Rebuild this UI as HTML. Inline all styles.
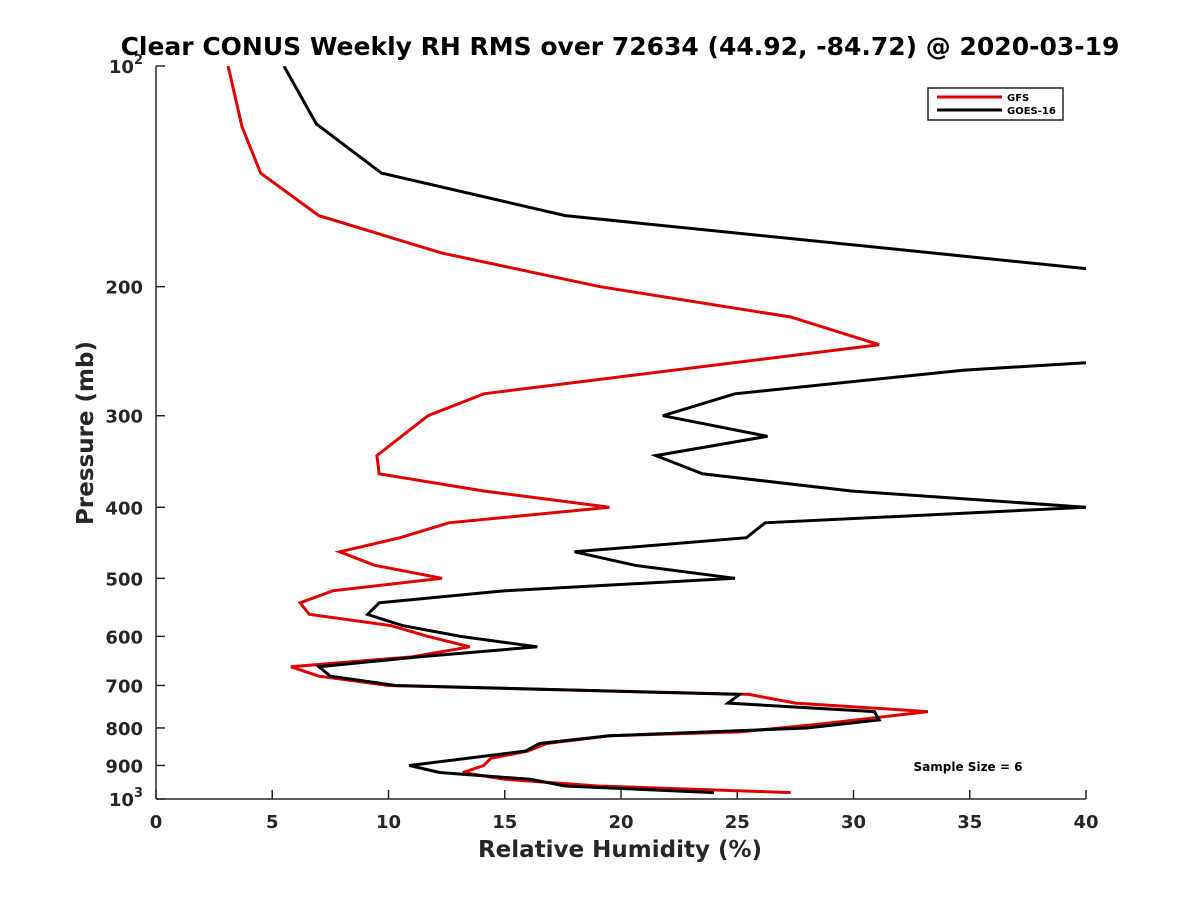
<!DOCTYPE html>
<html><head><meta charset="utf-8"><style>
body{margin:0;background:#fff}
svg{font-family:"DejaVu Sans","Liberation Sans",sans-serif;font-weight:bold}
</style></head><body>
<svg id="c" width="1200" height="900" xmlns="http://www.w3.org/2000/svg">
<rect width="1200" height="900" fill="#fff"/>
<defs><clipPath id="clip"><rect x="156" y="66" width="930" height="733"/></clipPath></defs>
<text x="620" y="55" text-anchor="middle" font-size="25" fill="#000">Clear CONUS Weekly RH RMS over 72634 (44.92, -84.72) @ 2020-03-19</text>
<g id="axes"></g>
<g id="series" clip-path="url(#clip)"></g>
<text x="620" y="857" text-anchor="middle" font-size="23" fill="#262626">Relative Humidity (%)</text>
<text transform="translate(93,433) rotate(-90)" text-anchor="middle" font-size="23" fill="#262626">Pressure (mb)</text>
<g>
<rect x="928" y="88" width="135" height="32" fill="#fff" stroke="#262626" stroke-width="1.5"/>
<line x1="937" y1="97" x2="1002" y2="97" stroke="#e00000" stroke-width="3"/>
<text x="1007" y="101" font-size="10" fill="#000">GFS</text>
<line x1="937" y1="110" x2="1002" y2="110" stroke="#000" stroke-width="3"/>
<text x="1007" y="114" font-size="10" fill="#000">GOES-16</text>
</g>
<text x="968" y="771" text-anchor="middle" font-size="12" fill="#000">Sample Size = 6</text>
</svg>
<script>
const xTicks=[0,5,10,15,20,25,30,35,40];
const yTicks=[100,200,300,400,500,600,700,800,900,1000];
const gfsP=[100,121,140,160,180,200,220,240,280,300,340,360,380,400,420,440,460,480,500,520,540,560,580,600,620,640,660,680,700,720,740,760,790,810,820,840,860,880,900,920,940,960,980];
const gfsRH=[3.1,3.7,4.5,7.0,12.3,19.1,27.3,31.1,14.1,11.7,9.5,9.6,14.1,19.5,12.6,10.5,7.9,9.4,12.3,7.6,6.2,6.6,10.1,11.7,13.5,11.0,5.8,7.0,10.0,25.5,27.5,33.2,28.6,25.1,19.5,16.8,16.0,14.4,14.1,13.2,15.0,19.0,27.3];
const goesP=[100,120,140,160,189,220,254,260,280,300,320,340,360,380,400,420,440,460,480,500,520,540,560,580,600,620,640,660,680,700,720,740,760,780,800,820,840,860,900,920,940,960,980];
const goesRH=[5.5,6.9,9.7,17.6,40,60,40,34.7,24.9,21.8,26.3,21.5,23.5,29.9,40,26.2,25.4,18.0,20.6,24.9,15.0,9.6,9.1,10.6,13.1,16.4,11.3,7.0,7.5,10.3,25.1,24.6,30.9,31.1,28.0,19.5,16.5,15.9,10.9,12.2,16.1,17.6,24.0];
const X0=156,X1=1086,Y0=66,Y1=799;
const xs=v=>X0+(v-0)/40*(X1-X0);
const ys=p=>Y0+Math.log10(p/100)*(Y1-Y0);
const NS='http://www.w3.org/2000/svg';
const ax=document.getElementById('axes'),se=document.getElementById('series');
function mk(t,a,parent){const e=document.createElementNS(NS,t);for(const k in a)e.setAttribute(k,a[k]);parent.appendChild(e);return e;}
let l=mk('line',{x1:X0,y1:Y0,x2:X0,y2:Y1,stroke:'#262626','stroke-width':1.5},ax);


l=mk('line',{x1:X0,y1:Y1,x2:X1,y2:Y1,stroke:'#262626','stroke-width':1.5},ax);


xTicks.forEach(v=>{
 const x=xs(v);
 const t=mk('line',{x1:x,y1:Y1,x2:x,y2:Y1-9,stroke:'#262626','stroke-width':1.5},ax);
 
 
 const tx=mk('text',{x:x,y:828,'text-anchor':'middle','font-size':18,fill:'#262626'},ax);
 tx.textContent=v;
 
 
});
yTicks.forEach(p=>{
 const y=ys(p);
 const t=mk('line',{x1:X0,y1:y,x2:X0+9,y2:y,stroke:'#262626','stroke-width':1.5},ax);
 
 
 const tx=mk('text',{x:143,y:y+7,'text-anchor':'end','font-size':18,fill:'#262626'},ax);
 if(p===100||p===1000){tx.textContent='10';const s=mk('tspan',{dy:-9,'font-size':13},tx);s.textContent=p===100?'2':'3';}
 else tx.textContent=p;
 
 
});
function line(P,V,col,name){
 const d=P.map((p,i)=>(i?'L':'M')+xs(V[i]).toFixed(1)+','+ys(p).toFixed(1)).join('');
 const e=mk('path',{d:d,fill:'none',stroke:col,'stroke-width':3,'stroke-linejoin':'miter'},se);
 
 
}
line(gfsP,gfsRH,'#e00000','gfs-line');
line(goesP,goesRH,'#000','goes16-line');
</script>
</body></html>
